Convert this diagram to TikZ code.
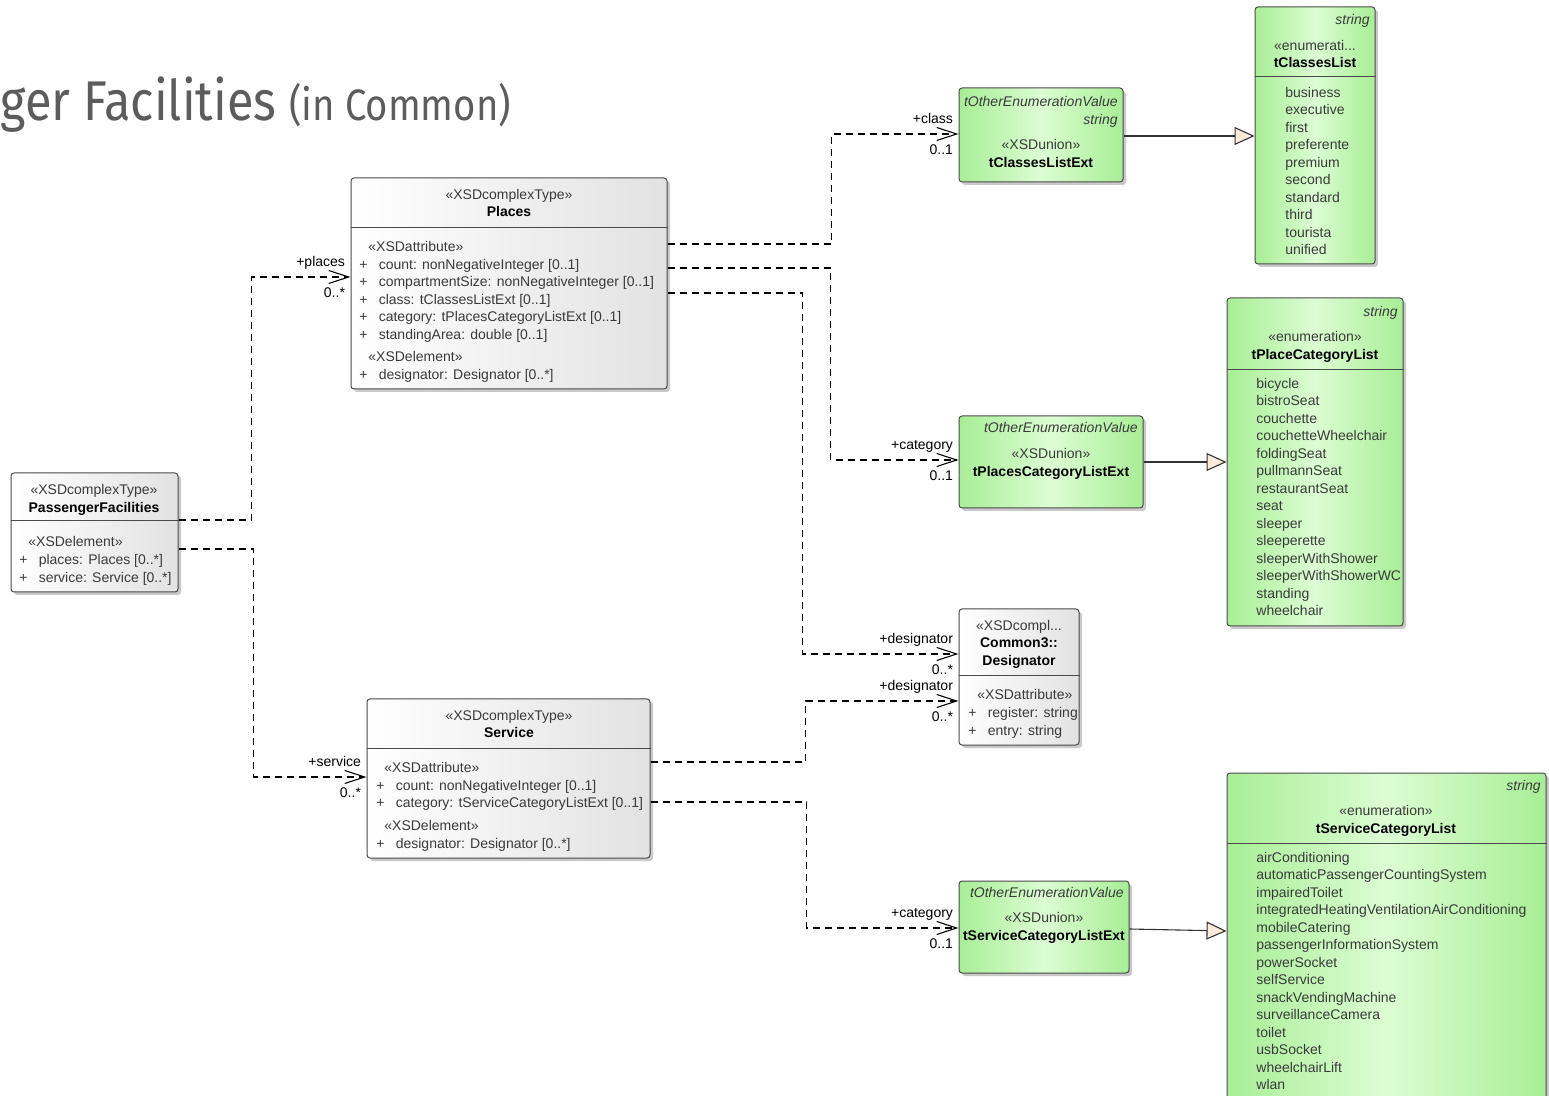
\documentclass[tikz,border=0pt]{standalone}
\usepackage{fontspec}
\setmainfont{Liberation Sans}
\newfontfamily\titlefont[FakeStretch=0.87]{Fira Sans}
\usetikzlibrary{arrows.meta,positioning,fit,shadows}

\definecolor{boxline}{HTML}{4A4A4A}
\definecolor{txtgray}{HTML}{3A3A3A}
\definecolor{titlegray}{HTML}{5C5C5C}
\definecolor{greenedge}{HTML}{A8EE96}
\definecolor{greenlight}{HTML}{DCFDD3}
\definecolor{grayright}{HTML}{E2E2E2}
\definecolor{tipfill}{HTML}{FCEBD8}

\newcommand{\umlattr}[1]{\makebox[9.7pt][l]{+}#1}

\begin{document}
\begin{tikzpicture}[x=0.5pt,y=-0.5pt]
\tikzset{box/.style={draw=boxline, line width=0.5pt, rounded corners=1.5pt, inner sep=0pt, drop shadow={shadow xshift=1.5pt, shadow yshift=-1.5pt, fill=black!35, opacity=0.6}}}
\tikzset{graybox/.style={box, left color=white, right color=grayright}}
\tikzset{greenbox/.style={box, left color=greenedge, right color=greenedge, middle color=greenlight}}
\tikzset{txt/.style={inner sep=0pt, text=txtgray, font=\fontsize{7}{8.5}\selectfont, text height=6.5pt, text depth=1pt}}
\tikzset{row/.style={txt, anchor=west}}
\tikzset{nm/.style={txt, text=black, font=\fontsize{7}{8.5}\selectfont\bfseries}}
\tikzset{tag/.style={txt, anchor=east, font=\fontsize{7}{8.5}\selectfont\itshape}}
\tikzset{lbl/.style={txt, text=black}}
\tikzset{assoc/.style={draw=black, line width=0.55pt, dash pattern=on 3.5pt off 2.5pt, -{Straight Barb[length=10pt,width=6.5pt]}}}
\tikzset{gen/.style={draw=black!80, line width=0.55pt, -{Triangle[length=10pt,width=9pt,fill=tipfill]}}}

\path[fill=white] (0,0) rectangle (1549,1096);
\useasboundingbox (0,0) rectangle (1549,1096);

% title
\node[anchor=base west, inner sep=0pt, text=titlegray, font=\titlefont\fontsize{28}{30}\selectfont] (title) at (0,121) {ger Facilities {\fontsize{22}{24}\selectfont(in Common)}};

% PassengerFacilities
\node[graybox, fit={(11,473) (178,592)}] (pf) {};
\draw[boxline, line width=0.5pt] (pf.west |- 0,521) -- (pf.east |- 0,521);
\node[txt] (pf-st) at (94,489) {«XSDcomplexType»};
\node[nm] (pf-nm) at (94,507) {PassengerFacilities};
\node[row] (pf-s1) at (28,541) {«XSDelement»};
\node[row] (pf-e1) at (19,559) {\umlattr{places: Places [0..*]}};
\node[row] (pf-e2) at (19,577) {\umlattr{service: Service [0..*]}};

% Places
\node[graybox, fit={(351,178) (667,389)}] (pl) {};
\draw[boxline, line width=0.5pt] (pl.west |- 0,228) -- (pl.east |- 0,228);
\node[txt] (pl-st) at (509,194) {«XSDcomplexType»};
\node[nm] (pl-nm) at (509,211) {Places};
\node[row] (pl-s1) at (368,246) {«XSDattribute»};
\node[row] (pl-a1) at (359,264) {\umlattr{count: nonNegativeInteger [0..1]}};
\node[row] (pl-a2) at (359,281) {\umlattr{compartmentSize: nonNegativeInteger [0..1]}};
\node[row] (pl-a3) at (359,299) {\umlattr{class: tClassesListExt [0..1]}};
\node[row] (pl-a4) at (359,316) {\umlattr{category: tPlacesCategoryListExt [0..1]}};
\node[row] (pl-a5) at (359,334) {\umlattr{standingArea: double [0..1]}};
\node[row] (pl-s2) at (368,356) {«XSDelement»};
\node[row] (pl-e1) at (359,374) {\umlattr{designator: Designator [0..*]}};

% Service
\node[graybox, fit={(367,699) (650,858)}] (sv) {};
\draw[boxline, line width=0.5pt] (sv.west |- 0,748) -- (sv.east |- 0,748);
\node[txt] (sv-st) at (509,715) {«XSDcomplexType»};
\node[nm] (sv-nm) at (509,732) {Service};
\node[row] (sv-s1) at (384,767) {«XSDattribute»};
\node[row] (sv-a1) at (376,785) {\umlattr{count: nonNegativeInteger [0..1]}};
\node[row] (sv-a2) at (376,802) {\umlattr{category: tServiceCategoryListExt [0..1]}};
\node[row] (sv-s2) at (384,825) {«XSDelement»};
\node[row] (sv-e1) at (376,843) {\umlattr{designator: Designator [0..*]}};

% unions
\node[greenbox, fit={(959,88) (1123,182)}] (cle) {};
\node[tag] (cle-t1) at (1118,101) {tOtherEnumerationValue};
\node[tag] (cle-t2) at (1118,119) {string};
\node[txt] (cle-st) at (1041,144) {«XSDunion»};
\node[nm] (cle-nm) at (1041,162) {tClassesListExt};

\node[greenbox, fit={(959,416) (1143,508)}] (pcle) {};
\node[tag] (pcle-t1) at (1138,427) {tOtherEnumerationValue};
\node[txt] (pcle-st) at (1051,453) {«XSDunion»};
\node[nm] (pcle-nm) at (1051,471) {tPlacesCategoryListExt};

\node[greenbox, fit={(959,881) (1129,973)}] (scle) {};
\node[tag] (scle-t1) at (1124,892) {tOtherEnumerationValue};
\node[txt] (scle-st) at (1044,917) {«XSDunion»};
\node[nm] (scle-nm) at (1044,935) {tServiceCategoryListExt};

% Designator
\node[graybox, fit={(959,609) (1079,745)}] (des) {};
\draw[boxline, line width=0.5pt] (des.west |- 0,676) -- (des.east |- 0,676);
\node[txt] (des-st) at (1019,625) {«XSDcompl...};
\node[nm] (des-nm1) at (1019,642) {Common3::};
\node[nm] (des-nm2) at (1019,660) {Designator};
\node[row] (des-s1) at (977,694) {«XSDattribute»};
\node[row] (des-a1) at (968,712) {\umlattr{register: string}};
\node[row] (des-a2) at (968,730) {\umlattr{entry: string}};

% enumerations
\node[greenbox, fit={(1255,7) (1375,264)}] (cl) {};
\draw[boxline, line width=0.5pt] (cl.west |- 0,77) -- (cl.east |- 0,77);
\node[tag] (cl-t1) at (1370,19) {string};
\node[txt] (cl-st) at (1315,45) {«enumerati...};
\node[nm] (cl-nm) at (1315,62) {tClassesList};
\foreach \v [count=\i from 0] in {business,executive,first,preferente,premium,second,standard,third,tourista,unified}
  \node[row] (cl-\i) at (1285,{92+17.45*\i}) {\v};

\node[greenbox, fit={(1227,298) (1403,626)}] (pcl) {};
\draw[boxline, line width=0.5pt] (pcl.west |- 0,370) -- (pcl.east |- 0,370);
\node[tag] (pcl-t1) at (1398,311) {string};
\node[txt] (pcl-st) at (1315,336) {«enumeration»};
\node[nm] (pcl-nm) at (1315,354) {tPlaceCategoryList};
\foreach \v [count=\i from 0] in {bicycle,bistroSeat,couchette,couchetteWheelchair,foldingSeat,pullmannSeat,restaurantSeat,seat,sleeper,sleeperette,sleeperWithShower,sleeperWithShowerWC,standing,wheelchair}
  \node[row] (pcl-\i) at (1256,{383+17.46*\i}) {\v};

\node[greenbox, fit={(1227,773) (1546,1120)}] (scl) {};
\draw[boxline, line width=0.5pt] (scl.west |- 0,843) -- (scl.east |- 0,843);
\node[tag] (scl-t1) at (1541,785) {string};
\node[txt] (scl-st) at (1386,810) {«enumeration»};
\node[nm] (scl-nm) at (1386,828) {tServiceCategoryList};
\foreach \v [count=\i from 0] in {airConditioning,automaticPassengerCountingSystem,impairedToilet,integratedHeatingVentilationAirConditioning,mobileCatering,passengerInformationSystem,powerSocket,selfService,snackVendingMachine,surveillanceCamera,toilet,usbSocket,wheelchairLift,wlan}
  \node[row] (scl-\i) at (1256,{857+17.46*\i}) {\v};

% associations
\tikzset{rolelbl/.style={lbl, pos=1, anchor=south east, xshift=-2.5pt, yshift=4pt}}
\tikzset{multlbl/.style={lbl, pos=1, anchor=north east, xshift=-2.5pt, yshift=-3.3pt}}
\draw[assoc] (pf.east |- 0,520) -- ++(73,0) |- (pl.west |- 0,277) node[rolelbl] (r-places) {+places} node[multlbl] (m-places) {0..*};
\draw[assoc] (pf.east |- 0,549) -- ++(75,0) |- (sv.west |- 0,777) node[rolelbl] (r-service) {+service} node[multlbl] (m-service) {0..*};
\draw[assoc] (pl.east |- 0,244) -- ++(164,0) |- (cle.west |- 0,134) node[rolelbl] (r-class) {+class} node[multlbl] (m-class) {0..1};
\draw[assoc] (pl.east |- 0,268) -- ++(163,0) |- (pcle.west |- 0,460) node[rolelbl] (r-pcat) {+category} node[multlbl] (m-pcat) {0..1};
\draw[assoc] (pl.east |- 0,293) -- ++(135,0) |- (des.west |- 0,654) node[rolelbl] (r-pdes) {+designator} node[multlbl] (m-pdes) {0..*};
\draw[assoc] (sv.east |- 0,762) -- ++(155,0) |- (des.west |- 0,701) node[rolelbl] (r-sdes) {+designator} node[multlbl] (m-sdes) {0..*};
\draw[assoc] (sv.east |- 0,802) -- ++(156,0) |- (scle.west |- 0,928) node[rolelbl] (r-scat) {+category} node[multlbl] (m-scat) {0..1};

% generalizations
\draw[gen] (cle.east |- 0,136) -- (cl.west |- 0,136);
\draw[gen] (pcle.east |- 0,462) -- (pcl.west |- 0,462);
\draw[gen] (scle.east |- 0,929) -- (scl.west |- 0,931);

\end{tikzpicture}
\end{document}
